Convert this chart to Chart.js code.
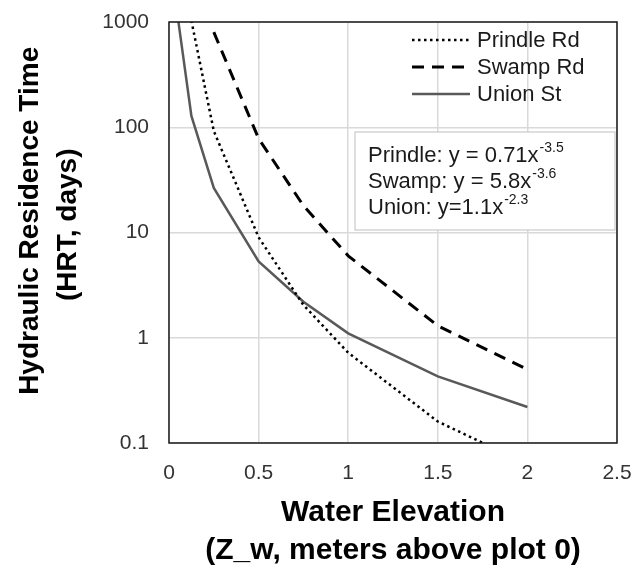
<!DOCTYPE html>
<html>
<head>
<meta charset="utf-8">
<script src="https://cdn.jsdelivr.net/npm/chart.js@4.4.0/dist/chart.umd.min.js"></script>
<style>
  html, body { margin: 0; padding: 0; background: #fff; }
</style>
</head>
<body>
<canvas id="hrtChart" width="632" height="569"></canvas>
<script>
// Values
const prindleX = [0.125, 0.25, 0.5, 0.75, 1, 1.5, 2];
const prindleY = [1030, 92, 9.0, 2.05, 0.72, 0.16, 0.063];

const swampX = [0.25, 0.5, 0.75, 1, 1.5, 2];
const swampY = [800, 78, 18, 6.0, 1.3, 0.5];

const unionX = [0.05, 0.125, 0.25, 0.5, 0.75, 1, 1.5, 2];
const unionY = [1080, 128, 26.5, 5.3, 2.2, 1.1, 0.43, 0.22];

const seriesNames = ['Prindle Rd', 'Swamp Rd', 'Union St'];
const yTicks = [0.1, 1, 10, 100, 1000];
const xTicks = [0, 0.5, 1, 1.5, 2, 2.5];

// fitted equations: [label, base text, exponent]
const equations = [
    ['Prindle:', ' y = 0.71x', '-3.5'],
    ['Swamp:', ' y = 5.8x', '-3.6'],
    ['Union:', ' y=1.1x', '-2.3']
];

const FONT = '"Liberation Sans", Arial, sans-serif';

function toPoints(xs, ys) {
    return xs.map((x, i) => ({ x: x, y: ys[i] }));
}

// legend, equation box and plot frame drawn on top of the chart area
const overlayPlugin = {
    id: 'overlay',
    afterDatasetsDraw(chart) {
        const ctx = chart.ctx;
        const a = chart.chartArea;
        ctx.save();

        // plot border
        ctx.strokeStyle = '#1a1a1a';
        ctx.lineWidth = 1.5;
        ctx.strokeRect(a.left, a.top, a.right - a.left, a.bottom - a.top);

        // legend (top right, inside the plot)
        ctx.font = '22px ' + FONT;
        ctx.textBaseline = 'middle';
        ctx.fillStyle = '#1a1a1a';
        chart.data.datasets.forEach((ds, i) => {
            const y = a.top + 18 + i * 27;
            ctx.beginPath();
            ctx.strokeStyle = ds.borderColor;
            ctx.lineWidth = ds.borderWidth;
            ctx.setLineDash(ds.borderDash || []);
            ctx.moveTo(a.left + 243, y);
            ctx.lineTo(a.left + 301, y);
            ctx.stroke();
            ctx.setLineDash([]);
            ctx.fillText(ds.label, a.left + 308, y + 1);
        });

        // equation box
        const bx = a.left + 186, by = a.top + 110, bw = 260, bh = 98;
        ctx.fillStyle = '#fff';
        ctx.fillRect(bx, by, bw, bh);
        ctx.strokeStyle = '#bfbfbf';
        ctx.lineWidth = 1;
        ctx.strokeRect(bx, by, bw, bh);

        ctx.fillStyle = '#1a1a1a';
        equations.forEach((eq, i) => {
            const y = by + 24 + i * 26;
            let x = bx + 13;
            ctx.font = '22px ' + FONT;
            const main = eq[0] + eq[1];
            ctx.fillText(main, x, y);
            x += ctx.measureText(main).width;
            ctx.font = '14px ' + FONT;
            ctx.fillText(eq[2], x + 1, y - 8);
        });

        ctx.restore();
    }
};

const ctx = document.getElementById('hrtChart').getContext('2d');
const hrtChart = new Chart(ctx, {
    type: 'line',
    data: {
        datasets: [{
            label: seriesNames[0],
            data: toPoints(prindleX, prindleY),
            borderColor: '#000',
            borderWidth: 2.5,
            borderDash: [2.5, 3.5],
            pointRadius: 0,
            tension: 0,
            fill: false
        }, {
            label: seriesNames[1],
            data: toPoints(swampX, swampY),
            borderColor: '#000',
            borderWidth: 3,
            borderDash: [12, 8],
            pointRadius: 0,
            tension: 0,
            fill: false
        }, {
            label: seriesNames[2],
            data: toPoints(unionX, unionY),
            borderColor: '#595959',
            borderWidth: 2.5,
            pointRadius: 0,
            tension: 0,
            fill: false
        }]
    },
    options: {
        responsive: false,
        animation: false,
        layout: {
            padding: { top: 22, right: 15, left: 0, bottom: 0 }
        },
        plugins: {
            legend: { display: false },
            tooltip: { enabled: false }
        },
        scales: {
            x: {
                type: 'linear',
                min: 0,
                max: 2.5,
                afterBuildTicks: (axis) => {
                    axis.ticks = xTicks.map(v => ({ value: v }));
                },
                afterFit: (scale) => {
                    scale.height = 126;
                    scale.paddingLeft = 0;
                    scale.paddingRight = 0;
                },
                grid: { color: '#d9d9d9', lineWidth: 1.5, drawTicks: false },
                border: { display: false },
                ticks: {
                    padding: 18,
                    color: '#333',
                    font: { family: FONT, size: 21 },
                    callback: (v) => String(v)
                },
                title: {
                    display: true,
                    text: ['Water Elevation', '(Z_w, meters above plot 0)'],
                    color: '#000',
                    font: { family: FONT, size: 30, weight: 'bold', lineHeight: 1.25 },
                    padding: { top: 0, bottom: 0 }
                }
            },
            y: {
                type: 'logarithmic',
                min: 0.1,
                max: 1000,
                afterBuildTicks: (axis) => {
                    axis.ticks = yTicks.map(v => ({ value: v }));
                },
                afterFit: (scale) => {
                    scale.width = 169;
                    scale.paddingTop = 0;
                    scale.paddingBottom = 0;
                },
                grid: { color: '#d9d9d9', lineWidth: 1.5, drawTicks: false },
                border: { display: false },
                ticks: {
                    padding: 20,
                    color: '#333',
                    font: { family: FONT, size: 21 },
                    callback: (v) => String(v)
                },
                title: {
                    display: true,
                    // leading spaces nudge the rotated title up a little
                    text: ['\u00a0\u00a0\u00a0Hydraulic Residence Time', '\u00a0\u00a0(HRT, days)'],
                    color: '#000',
                    font: { family: FONT, size: 28, weight: 'bold', lineHeight: 1.36 },
                    padding: { top: 11, bottom: 0 }
                }
            }
        }
    },
    plugins: [overlayPlugin]
});
</script>
</body>
</html>
